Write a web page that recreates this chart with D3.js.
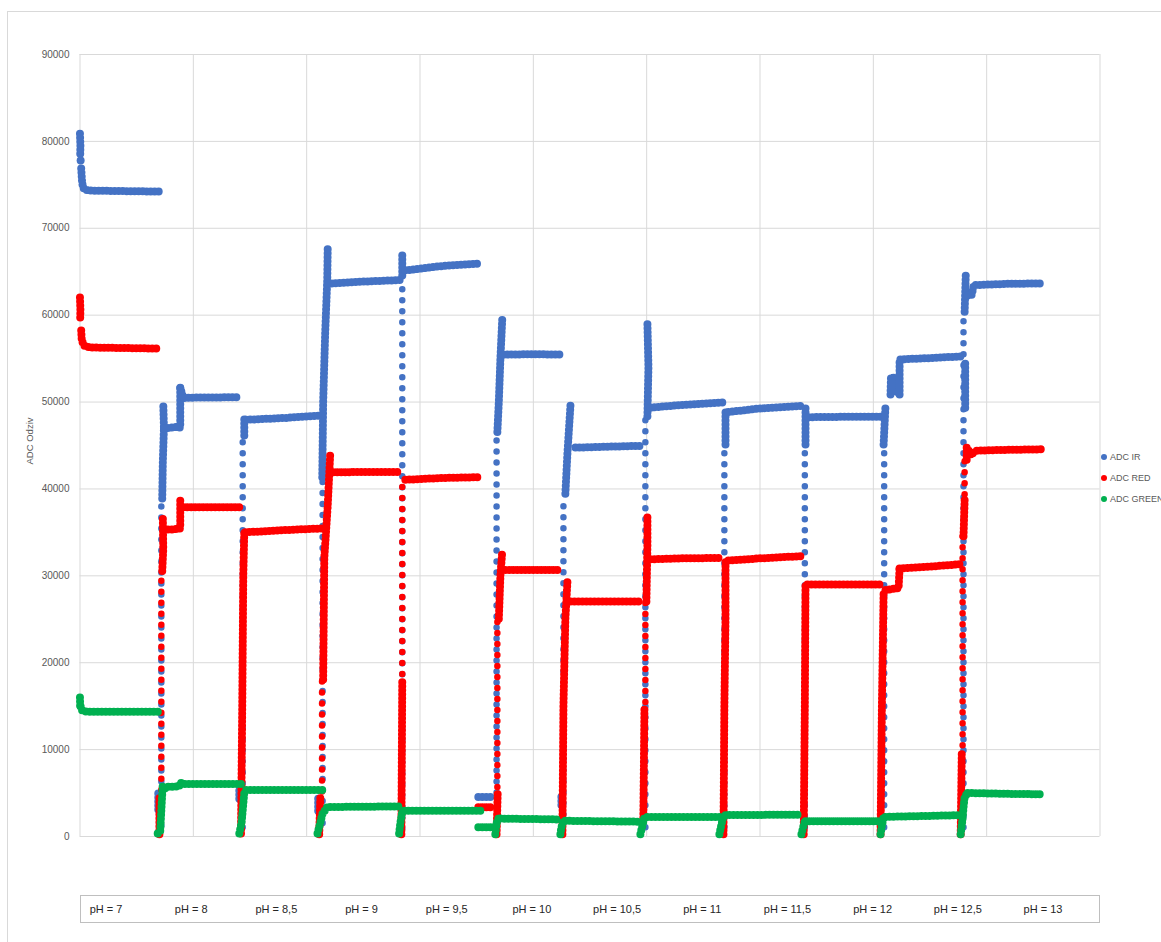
<!DOCTYPE html>
<html>
<head>
<meta charset="utf-8">
<script src="https://cdn.jsdelivr.net/npm/d3@7"></script>
<style>
  body { margin: 0; background: #fff; }
  svg { display: block; }
  text { font-family: "Liberation Sans", Arial, sans-serif; }
</style>
</head>
<body>
<svg id="chart" width="1161" height="942"></svg>
<script>
// ---- data -------------------------------------------------------------
// x: sample index, y: raw ADC reading
const phLabels = ["pH = 7", "pH = 8", "pH = 8,5", "pH = 9", "pH = 9,5", "pH = 10",
                  "pH = 10,5", "pH = 11", "pH = 11,5", "pH = 12", "pH = 12,5", "pH = 13"];
const yTicks = [0, 10000, 20000, 30000, 40000, 50000, 60000, 70000, 80000, 90000];
const xGrid = [0, 1000, 2000, 3000, 4000, 5000, 6000, 7000, 8000, 9000];
const seriesNames = ["ADC IR", "ADC RED", "ADC GREEN"];

// dense stretches of samples: [sample, adc]
const irRuns = [
  [[4, 80830], [8, 79450], [6, 78300]],
  [[10, 77730], [10, 77700]],
  [[15, 76810], [20, 75800], [24, 75080], [41, 74390], [94, 74280], [400, 74220], [712, 74160]],
  [[695, 4900], [695, 2900]],
  [[730, 38850], [735, 43000], [745, 47000], [739, 49770]],
  [[745, 46900], [800, 47000], [860, 47100], [889, 47000], [889, 51700]],
  [[889, 51600], [915, 50400], [1000, 50450], [1418, 50500]],
  [[1410, 5200], [1410, 4000]],
  [[1454, 46100], [1454, 48100], [1471, 47900], [1800, 48100], [2142, 48400]],
  [[2106, 4300], [2106, 2600]],
  [[2142, 41300], [2150, 50000], [2168, 58000], [2186, 64000], [2190, 67600]],
  [[2190, 63580], [2213, 63580], [2500, 63800], [2831, 63980]],
  [[2848, 66800], [2848, 64300]],
  [[2875, 65100], [3200, 65600], [3537, 65900]],
  [[3519, 4500], [3643, 4500]],
  [[3687, 46500], [3700, 50000], [3714, 55000], [3730, 59450]],
  [[3740, 55400], [4000, 55450], [4243, 55400]],
  [[4252, 4500], [4252, 3200]],
  [[4287, 39400], [4305, 44000], [4332, 49550]],
  [[4376, 44700], [4650, 44800], [4949, 44900]],
  [[5011, 48300], [5020, 54000], [5011, 58980]],
  [[5038, 49300], [5300, 49600], [5673, 49900]],
  [[5700, 45050], [5700, 49100]],
  [[5726, 48800], [6000, 49200], [6361, 49500]],
  [[6406, 45050], [6406, 49600]],
  [[6432, 48200], [6800, 48250], [7095, 48250]],
  [[7095, 45050], [7112, 49600]],
  [[7156, 50800], [7160, 52800], [7200, 52700], [7220, 50900]],
  [[7236, 50800], [7236, 54850], [7500, 55000], [7792, 55200]],
  [[7815, 49300], [7815, 54800]],
  [[7810, 60350], [7820, 64600]],
  [[7837, 62200], [7873, 62300], [7890, 63400], [8200, 63550], [8500, 63600]]
];
// sparse vertical stretches: [sample, adcFrom, adcTo]
const irDots = [
  [722, 1200, 38600], [1440, 1000, 46000], [2145, 1500, 41000], [2848, 900, 64000],
  [3680, 5000, 46500], [4270, 2500, 39000], [4993, 1000, 48000], [5690, 1000, 45000],
  [6400, 1000, 45000], [7100, 1000, 45000], [7800, 1000, 60000]
];

const redRuns = [
  [[4, 61970], [8, 60500], [6, 59550]],
  [[15, 58170], [20, 57000], [41, 56440], [94, 56220], [712, 56100]],
  [[705, 200], [705, 4700]],
  [[730, 30500], [739, 33000], [735, 36900]],
  [[745, 35300], [800, 35250], [889, 35400], [889, 38850]],
  [[915, 37850], [1100, 37850], [1418, 37850]],
  [[1425, 300], [1436, 15000], [1445, 30000], [1454, 35000]],
  [[1463, 34950], [1800, 35200], [2142, 35400]],
  [[2115, 200], [2125, 4500]],
  [[2150, 18000], [2160, 32000], [2190, 38000], [2213, 44200]],
  [[2239, 41850], [2500, 41900], [2831, 41900]],
  [[2840, 200], [2848, 18000]],
  [[2875, 41000], [3200, 41200], [3537, 41300]],
  [[3519, 3300], [3643, 3300]],
  [[3680, 200], [3690, 5000]],
  [[3700, 25000], [3714, 30000], [3730, 32700]],
  [[3757, 30600], [4000, 30600], [4243, 30600]],
  [[4261, 200], [4270, 15000], [4287, 25000], [4305, 29200]],
  [[4332, 27000], [4600, 27000], [4949, 27000]],
  [[4975, 2100], [4985, 14800]],
  [[5002, 27000], [5011, 33500], [5011, 37000]],
  [[5038, 31850], [5300, 31950], [5673, 32000]],
  [[5682, 200], [5690, 15000], [5700, 25000], [5700, 31700]],
  [[5726, 31700], [6000, 31950], [6361, 32200]],
  [[6390, 200], [6400, 15000], [6406, 29000]],
  [[6423, 28950], [6800, 28950], [7068, 28950]],
  [[7068, 200], [7080, 15000], [7095, 28000]],
  [[7112, 28300], [7200, 28500], [7227, 28500], [7236, 30800]],
  [[7236, 30800], [7500, 31000], [7792, 31300]],
  [[7775, 200], [7785, 9800]],
  [[7800, 34500], [7810, 38700]],
  [[7828, 43300], [7828, 44700], [7873, 43800], [7890, 44300]],
  [[7917, 44350], [8200, 44450], [8500, 44500]]
];
const redDots = [
  [722, 4700, 30500], [2140, 4500, 18000], [2848, 18000, 41000], [3687, 5000, 25000],
  [4993, 14800, 27000], [7792, 9800, 34500], [7810, 38700, 43300]
];

const greenRuns = [
  [[4, 15950], [6, 14920]],
  [[10, 14900], [20, 14500], [59, 14300], [712, 14300]],
  [[690, 300], [712, 500], [722, 3000], [735, 6000]],
  [[756, 5500], [760, 5650], [880, 5700], [889, 6150], [915, 5980], [1430, 5980]],
  [[1410, 300], [1430, 1500], [1454, 5000], [1463, 5290]],
  [[1471, 5290], [1800, 5290], [2142, 5290]],
  [[2100, 300], [2124, 1500], [2142, 2500], [2186, 3340]],
  [[2213, 3340], [2500, 3370], [2831, 3400]],
  [[2820, 300], [2831, 1500], [2848, 2800]],
  [[2866, 2900], [3200, 2900], [3537, 2900]],
  [[3519, 1000], [3670, 1000]],
  [[3669, 200], [3680, 1500], [3696, 2000]],
  [[3714, 2000], [4000, 1950], [4243, 1900]],
  [[4243, 200], [4252, 1000], [4270, 1700]],
  [[4287, 1750], [4600, 1700], [4949, 1650]],
  [[4949, 200], [4967, 1200], [4985, 2200]],
  [[5011, 2200], [5300, 2200], [5673, 2200]],
  [[5646, 200], [5664, 1300], [5682, 2300]],
  [[5700, 2400], [6000, 2430], [6361, 2450]],
  [[6370, 200], [6385, 1000], [6400, 1700]],
  [[6406, 1700], [6800, 1700], [7068, 1700]],
  [[7068, 200], [7080, 1200], [7095, 2200]],
  [[7112, 2200], [7450, 2300], [7792, 2400]],
  [[7775, 200], [7792, 2000], [7800, 3300], [7810, 4500], [7837, 4950]],
  [[7837, 4950], [8200, 4850], [8500, 4800]]
];
const greenDots = [];

// ---- layout -----------------------------------------------------------
const colors = ["#4472C4", "#FF0000", "#00B050"];
const plot = { left: 79.5, right: 1099.5, top: 54, bottom: 836 };

const svg = d3.select("#chart");
const x = d3.scaleLinear().domain([0, 9000]).range([plot.left, plot.right]);
const y = d3.scaleLinear().domain([0, 90000]).range([plot.bottom, plot.top]);

// chart frame
svg.append("rect")
  .attr("x", 7.5).attr("y", 11.5).attr("width", 1200).attr("height", 1000)
  .attr("fill", "#fff").attr("stroke", "#d9d9d9");

// gridlines + value axis
const yAxis = svg.append("g")
  .attr("transform", `translate(${plot.left},0)`)
  .call(d3.axisLeft(y).tickValues(yTicks).tickFormat(d3.format("d"))
    .tickSizeInner(-(plot.right - plot.left)).tickSizeOuter(0).tickPadding(10));
yAxis.select(".domain").remove();
yAxis.selectAll(".tick line").attr("stroke", "#d9d9d9");
yAxis.selectAll(".tick text").attr("fill", "#595959").style("font-size", "10px");

const xAxis = svg.append("g")
  .attr("transform", `translate(0,${plot.bottom})`)
  .call(d3.axisBottom(x).tickValues(xGrid).tickFormat("")
    .tickSizeInner(-(plot.bottom - plot.top)).tickSizeOuter(0));
xAxis.select(".domain").remove();
xAxis.selectAll(".tick line").attr("stroke", "#d9d9d9");

// axis title
svg.append("text")
  .attr("transform", "translate(33,441) rotate(-90)")
  .attr("text-anchor", "middle")
  .attr("fill", "#595959")
  .style("font-size", "9.5px")
  .text("ADC Odziv");

// ---- series -----------------------------------------------------------
const line = d3.line().x(d => x(d[0])).y(d => y(d[1]));
const seriesData = [
  { runs: irRuns, dots: irDots, offset: 0 },
  { runs: redRuns, dots: redDots, offset: 5.5 },
  { runs: greenRuns, dots: greenDots, offset: 0 }
];

seriesData.forEach((s, i) => {
  const g = svg.append("g").attr("class", "series");
  // isolated samples along the jumps between pH steps
  g.selectAll("path.sparse")
    .data(s.dots)
    .join("path")
    .attr("class", "sparse")
    .attr("d", d => line([[d[0], d[1]], [d[0], d[2]]]))
    .attr("fill", "none")
    .attr("stroke", colors[i])
    .attr("stroke-width", 6.5)
    .attr("stroke-linecap", "round")
    .attr("stroke-dasharray", "0 11")
    .attr("stroke-dashoffset", s.offset);
  // closely packed samples: overlapping round markers
  g.selectAll("path.dense")
    .data(s.runs)
    .join("path")
    .attr("class", "dense")
    .attr("d", line)
    .attr("fill", "none")
    .attr("stroke", colors[i])
    .attr("stroke-width", 8)
    .attr("stroke-linecap", "round")
    .attr("stroke-linejoin", "round")
    .attr("stroke-dasharray", "0 4");
});

// ---- legend -----------------------------------------------------------
const legend = svg.append("g");
const ly = d3.scalePoint().domain(seriesNames).range([457, 499]);
legend.selectAll("circle")
  .data(seriesNames)
  .join("circle")
  .attr("cx", 1104).attr("cy", d => ly(d)).attr("r", 3)
  .attr("fill", (d, i) => colors[i]);
legend.selectAll("text")
  .data(seriesNames)
  .join("text")
  .attr("x", 1110).attr("y", d => ly(d))
  .attr("dy", "0.35em")
  .attr("fill", "#595959")
  .style("font-size", "9px")
  .text(d => d);

// ---- pH strip under the plot -----------------------------------------
svg.append("rect")
  .attr("x", 80.5).attr("y", 895.5).attr("width", 1019).attr("height", 27)
  .attr("fill", "#fff").attr("stroke", "#bfbfbf");
const px = d3.scalePoint().domain(phLabels).range([106, 1043]);
svg.selectAll("text.ph")
  .data(phLabels)
  .join("text")
  .attr("class", "ph")
  .attr("x", d => px(d)).attr("y", 909)
  .attr("dy", "0.35em")
  .attr("text-anchor", "middle")
  .attr("fill", "#262626")
  .style("font-size", "11px")
  .text(d => d);
</script>
</body>
</html>
